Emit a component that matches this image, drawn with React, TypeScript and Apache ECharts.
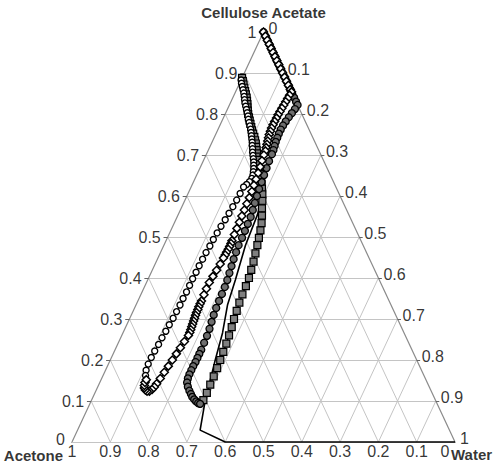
import React, { useEffect, useRef } from "react";
import * as echarts from "echarts";

// Ternary compositions as [Cellulose Acetate fraction, Water fraction]; Acetone = 1 - CA - Water
const ternaryTicks = [0, 0.1, 0.2, 0.3, 0.4, 0.5, 0.6, 0.7, 0.8, 0.9, 1];
const tickLabels = ["0", "0.1", "0.2", "0.3", "0.4", "0.5", "0.6", "0.7", "0.8", "0.9", "1"];

const titleTop = "Cellulose Acetate";
const titleLeft = "Acetone";
const titleRight = "Water";

// Run 1, top-surface path (open diamonds)
const run1Top: number[][] = [
  [1, 0], [0.99, 0.01], [0.98, 0.02], [0.97, 0.03], [0.96, 0.04], [0.95, 0.05], [0.94, 0.06], [0.93, 0.07],
  [0.92, 0.08], [0.91, 0.09], [0.9, 0.1], [0.89, 0.11], [0.88, 0.12], [0.87, 0.13], [0.86, 0.14], [0.854, 0.146],
  [0.846, 0.145], [0.838, 0.144], [0.83, 0.143], [0.822, 0.142], [0.814, 0.141], [0.806, 0.14], [0.798, 0.139],
  [0.79, 0.139], [0.782, 0.138], [0.774, 0.138], [0.766, 0.138], [0.758, 0.139], [0.75, 0.14], [0.742, 0.142],
  [0.734, 0.144], [0.726, 0.146], [0.718, 0.148], [0.71, 0.15], [0.7, 0.151],
  [0.686, 0.153], [0.671, 0.156], [0.656, 0.158], [0.641, 0.16], [0.626, 0.162], [0.611, 0.164], [0.596, 0.165],
  [0.581, 0.166], [0.566, 0.167], [0.551, 0.168], [0.536, 0.169], [0.521, 0.17], [0.506, 0.171], [0.491, 0.172],
  [0.484, 0.173], [0.477, 0.173], [0.47, 0.173], [0.463, 0.172], [0.456, 0.172], [0.449, 0.171],
  [0.434, 0.17], [0.419, 0.168], [0.404, 0.166], [0.389, 0.164], [0.374, 0.164], [0.359, 0.165], [0.344, 0.166],
  [0.337, 0.166], [0.33, 0.166], [0.323, 0.167], [0.316, 0.167], [0.309, 0.168], [0.302, 0.169], [0.295, 0.17],
  [0.288, 0.171], [0.281, 0.172], [0.274, 0.173], [0.267, 0.174], [0.26, 0.174],
  [0.245, 0.171], [0.23, 0.168], [0.215, 0.165], [0.2, 0.162], [0.185, 0.159], [0.17, 0.156], [0.155, 0.153],
  [0.142, 0.15], [0.134, 0.148], [0.128, 0.145], [0.124, 0.14], [0.124, 0.134], [0.127, 0.128], [0.132, 0.123],
  [0.138, 0.12], [0.145, 0.118], [0.152, 0.118],
];

// Run 1, bottom-surface path (open circles)
const run1Bottom: number[][] = [
  [0.883, 0], [0.875, 0.005], [0.867, 0.011], [0.859, 0.017], [0.851, 0.023], [0.843, 0.028], [0.835, 0.033],
  [0.827, 0.038], [0.819, 0.044], [0.811, 0.05], [0.803, 0.056], [0.795, 0.062], [0.787, 0.067], [0.779, 0.073],
  [0.771, 0.079], [0.763, 0.085], [0.755, 0.09], [0.747, 0.095], [0.739, 0.1], [0.731, 0.105], [0.723, 0.109],
  [0.715, 0.114], [0.707, 0.118], [0.699, 0.123], [0.691, 0.128], [0.683, 0.133], [0.675, 0.137], [0.667, 0.141],
  [0.659, 0.144], [0.651, 0.147], [0.643, 0.148], [0.635, 0.146], [0.628, 0.142], [0.622, 0.137],
  [0.606, 0.136], [0.59, 0.135], [0.574, 0.133], [0.558, 0.131], [0.542, 0.129], [0.526, 0.126], [0.51, 0.124],
  [0.494, 0.122], [0.478, 0.121], [0.462, 0.119], [0.446, 0.118], [0.43, 0.117], [0.414, 0.117], [0.398, 0.116],
  [0.382, 0.116], [0.366, 0.116], [0.35, 0.115], [0.334, 0.115], [0.318, 0.114], [0.302, 0.113], [0.286, 0.111],
  [0.27, 0.11], [0.254, 0.108], [0.238, 0.107], [0.222, 0.105], [0.206, 0.104], [0.19, 0.104], [0.175, 0.106],
  [0.162, 0.111], [0.152, 0.118],
];

// Run 2, top-surface path (filled circles)
const run2Top: number[][] = [
  [1, 0], [0.99, 0.01], [0.98, 0.02], [0.97, 0.03], [0.96, 0.04], [0.95, 0.05], [0.94, 0.06], [0.93, 0.07],
  [0.92, 0.08], [0.91, 0.09], [0.9, 0.1], [0.89, 0.11], [0.88, 0.12], [0.87, 0.13], [0.86, 0.14], [0.85, 0.15],
  [0.84, 0.16], [0.83, 0.17], [0.822, 0.178],
  [0.812, 0.176], [0.802, 0.173], [0.792, 0.17], [0.782, 0.167], [0.772, 0.165], [0.762, 0.164], [0.752, 0.164],
  [0.742, 0.165], [0.732, 0.166], [0.722, 0.168], [0.712, 0.17], [0.702, 0.171],
  [0.685, 0.172], [0.668, 0.174], [0.651, 0.176], [0.634, 0.178], [0.617, 0.18], [0.6, 0.183], [0.583, 0.186],
  [0.566, 0.189], [0.549, 0.192], [0.532, 0.193], [0.515, 0.194], [0.498, 0.195], [0.48, 0.195], [0.463, 0.197],
  [0.446, 0.199], [0.429, 0.202], [0.412, 0.205], [0.395, 0.208], [0.378, 0.21], [0.361, 0.211], [0.344, 0.212],
  [0.327, 0.213], [0.31, 0.215], [0.293, 0.218], [0.276, 0.221], [0.259, 0.223], [0.242, 0.224], [0.225, 0.225],
  [0.215, 0.225], [0.205, 0.225], [0.195, 0.225], [0.185, 0.224], [0.175, 0.224], [0.165, 0.224], [0.155, 0.225],
  [0.145, 0.228], [0.135, 0.235], [0.125, 0.244], [0.117, 0.252], [0.11, 0.259], [0.104, 0.267], [0.099, 0.275],
  [0.095, 0.282], [0.093, 0.288],
];

// Run 2, bottom-surface path (grey squares)
const run2Bottom: number[][] = [
  [0.888, 0], [0.88, 0.006], [0.872, 0.012], [0.864, 0.018], [0.856, 0.024], [0.848, 0.03], [0.84, 0.036],
  [0.832, 0.041], [0.824, 0.046], [0.816, 0.05], [0.808, 0.055], [0.8, 0.06], [0.792, 0.066], [0.784, 0.072],
  [0.776, 0.078], [0.768, 0.084], [0.76, 0.09], [0.752, 0.097], [0.744, 0.104], [0.736, 0.11], [0.728, 0.116],
  [0.72, 0.121], [0.712, 0.126], [0.704, 0.131], [0.696, 0.136], [0.688, 0.141],
  [0.678, 0.148], [0.666, 0.156], [0.654, 0.164], [0.642, 0.172], [0.63, 0.18], [0.618, 0.187], [0.604, 0.195],
  [0.588, 0.203], [0.57, 0.211], [0.552, 0.22], [0.534, 0.228], [0.516, 0.234], [0.498, 0.239], [0.48, 0.244],
  [0.46, 0.249], [0.44, 0.254], [0.42, 0.258], [0.4, 0.262], [0.38, 0.264], [0.36, 0.265], [0.34, 0.267],
  [0.32, 0.27], [0.3, 0.273], [0.28, 0.277], [0.26, 0.28], [0.24, 0.283], [0.22, 0.285], [0.2, 0.287],
  [0.18, 0.289], [0.16, 0.29], [0.14, 0.291], [0.12, 0.292], [0.102, 0.292],
];

// Plain line (no markers)
const plainLine: number[][] = [
  [0, 1], [0, 0.4], [0.029, 0.32], [0.102, 0.297], [0.2, 0.274], [0.266, 0.26], [0.334, 0.239],
  [0.395, 0.229], [0.48, 0.213], [0.554, 0.207], [0.61, 0.196],
];

const toXY = (p: number[]) => [p[1] + p[0] / 2, p[0]];

const FONT = "'Liberation Sans', Arial, sans-serif";

export default function App() {
  const ref = useRef<HTMLDivElement>(null);
  useEffect(() => {
    if (!ref.current) return;
    const chart = echarts.init(ref.current, undefined, { renderer: "svg" });
    const inner = ternaryTicks.slice(1, -1);
    const gridData: any[] = [];
    inner.forEach((t) => {
      gridData.push({ coords: [toXY([t, 0]), toXY([t, 1 - t])] });
      gridData.push({ coords: [toXY([0, t]), toXY([1 - t, t])] });
      gridData.push({ coords: [toXY([0, 1 - t]), toXY([1 - t, 0])] });
    });
    const edgeData = [
      { coords: [toXY([0, 0]), toXY([1, 0])] },
      { coords: [toXY([1, 0]), toXY([0, 1])] },
      { coords: [toXY([0, 0]), toXY([0, 1])] },
    ];
    const tickData: any[] = [];
    ternaryTicks.forEach((t) => {
      const l = toXY([t, 0]);
      tickData.push({ coords: [[l[0] - 0.011, l[1]], l] });
      const r = toXY([1 - t, t]);
      tickData.push({ coords: [r, [r[0] + 0.009, r[1]]] });
    });
    const labelBase = { show: true, color: "#000", fontFamily: FONT, fontSize: 16 };
    const labelPts: any[] = [];
    ternaryTicks.forEach((t, i) => {
      labelPts.push({
        value: toXY([t, 0]),
        label: { ...labelBase, position: "left", distance: 7, offset: t === 0 ? [0, -3] : [0, 0], formatter: tickLabels[i] },
      });
      labelPts.push({
        value: toXY([1 - t, t]),
        label: { ...labelBase, position: "right", distance: 5, offset: [0, -4], formatter: tickLabels[i] },
      });
      labelPts.push({
        value: toXY([0, 1 - t]),
        label: {
          ...labelBase,
          position: "bottom",
          distance: 1,
          offset: t === 0 ? [-10, 0] : [0, 0],
          formatter: tickLabels[i],
        },
      });
    });
    const boldLabel = { show: true, color: "#000", fontFamily: FONT, fontSize: 15, fontWeight: "bold", lineHeight: 15 };
    labelPts.push({ value: toXY([1, 0]), label: { ...boldLabel, position: "top", distance: 12, formatter: titleTop } });
    labelPts.push({
      value: toXY([0, 0]),
      label: { ...boldLabel, position: "left", distance: 9, offset: [0, 13], formatter: titleLeft },
    });
    labelPts.push({
      value: toXY([0, 1]),
      label: { ...boldLabel, position: "right", distance: 0, offset: [-4, 12], formatter: titleRight, align: "left" },
    });

    const pathSeries = (data: number[][], symbol: string, size: number, fill: string, bw: number) => ({
      type: "line",
      data: data.map(toXY),
      symbol,
      symbolSize: size,
      showSymbol: true,
      clip: false,
      silent: true,
      itemStyle: { color: fill, borderColor: "#000", borderWidth: bw, opacity: 1 },
      lineStyle: { color: "#000", width: 1.2 },
      z: 5,
    });

    chart.setOption({
      animation: false,
      backgroundColor: "#fff",
      grid: { left: 72, top: 32, width: 383, height: 410 },
      xAxis: { type: "value", min: 0, max: 1, show: false },
      yAxis: { type: "value", min: 0, max: 1, show: false },
      series: [
        {
          type: "lines",
          coordinateSystem: "cartesian2d",
          data: gridData,
          silent: true,
          lineStyle: { color: "#c4c4c4", width: 1, opacity: 1 },
          z: 1,
        },
        {
          type: "lines",
          coordinateSystem: "cartesian2d",
          data: edgeData,
          silent: true,
          lineStyle: { color: "#8a8a8a", width: 1.2, opacity: 1 },
          z: 2,
        },
        {
          type: "lines",
          coordinateSystem: "cartesian2d",
          data: tickData,
          silent: true,
          lineStyle: { color: "#666", width: 1, opacity: 1 },
          z: 2,
        },
        {
          type: "line",
          data: plainLine.map(toXY),
          showSymbol: false,
          symbol: "none",
          clip: false,
          silent: true,
          lineStyle: { color: "#000", width: 1.6 },
          z: 4,
        },
        pathSeries(run2Bottom, "rect", 7, "#7f7f7f", 1.2),
        pathSeries(run2Top, "circle", 7, "#6e6e6e", 1.3),
        pathSeries(run1Bottom, "circle", 6, "#ffffff", 1.4),
        pathSeries(run1Top, "diamond", 8, "#ffffff", 1.5),
        {
          type: "scatter",
          data: labelPts,
          symbolSize: 0,
          silent: true,
          clip: false,
          z: 10,
        },
      ],
    });
    return () => chart.dispose();
  }, []);
  return (
    <div
      ref={ref}
      style={{ position: "fixed", left: 0, top: 0, width: 494, height: 468, background: "#fff" }}
    />
  );
}
